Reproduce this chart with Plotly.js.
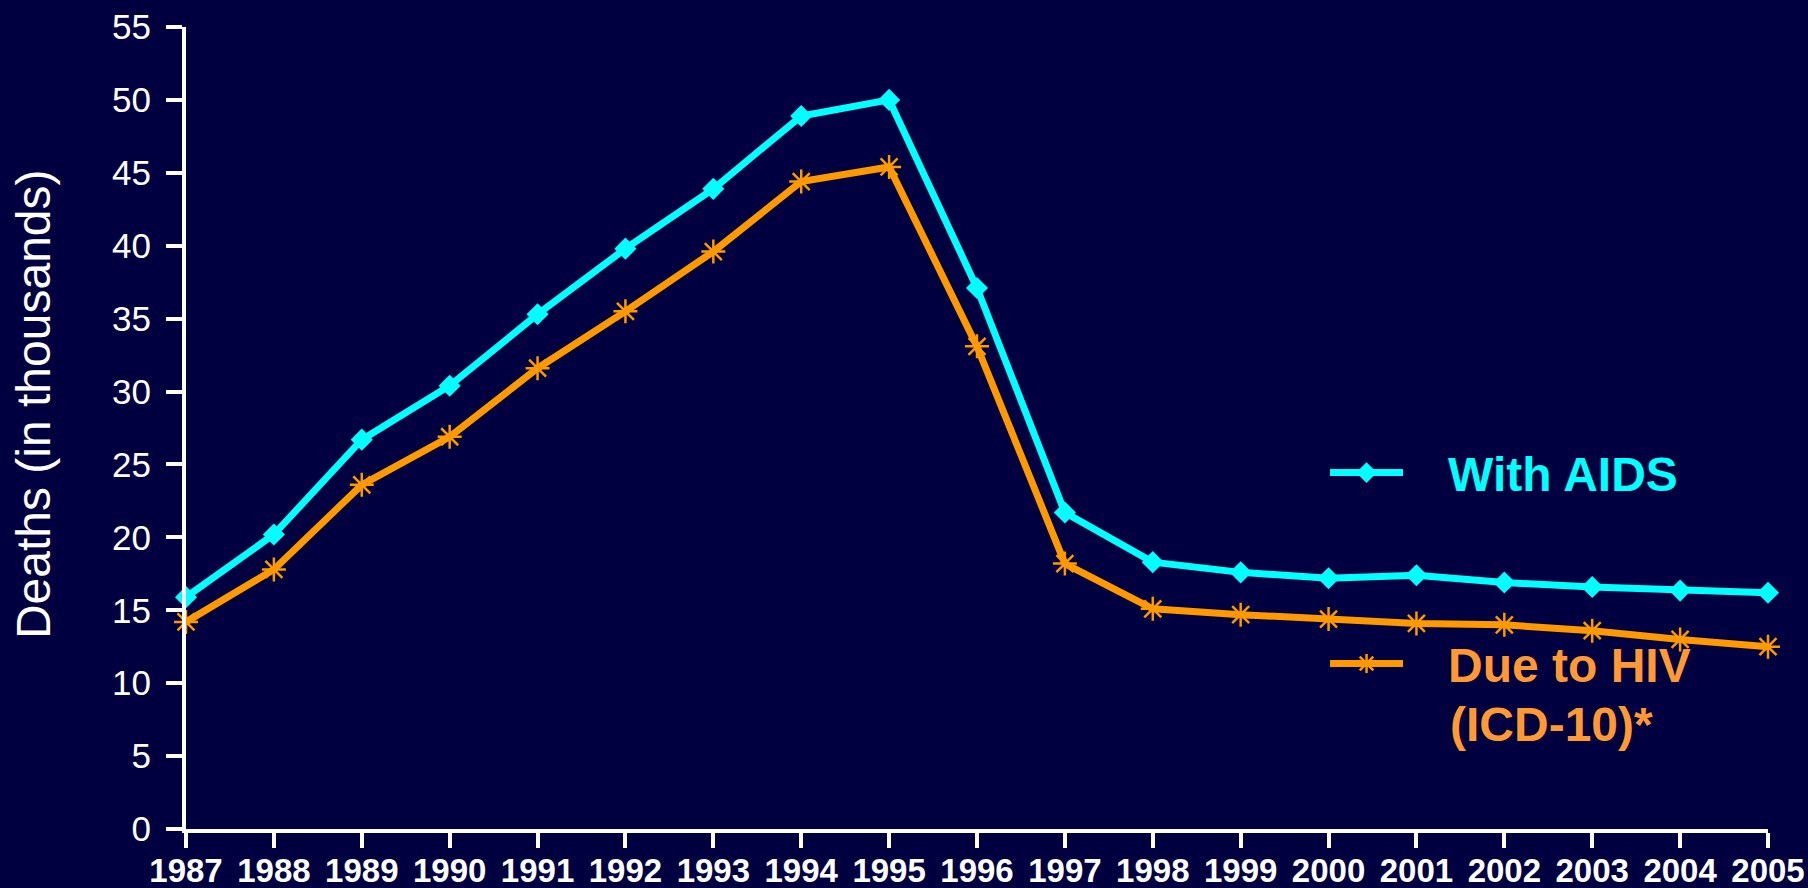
<!DOCTYPE html>
<html>
<head>
<meta charset="utf-8">
<script src="https://cdn.plot.ly/plotly-3.0.1.min.js"></script>
<style>
  html, body { margin: 0; padding: 0; background: #000040; }
  #chart { width: 1808px; height: 888px; }
</style>
</head>
<body>
<div id="chart"></div>
<script>
// values, deaths in thousands
var years = [1987, 1988, 1989, 1990, 1991, 1992, 1993, 1994, 1995, 1996,
             1997, 1998, 1999, 2000, 2001, 2002, 2003, 2004, 2005];
var withAids = [15.9, 20.2, 26.7, 30.4, 35.3, 39.8, 43.9, 48.9, 50.0, 37.1,
                21.7, 18.3, 17.6, 17.2, 17.4, 16.9, 16.6, 16.35, 16.2];
var dueToHiv = [14.2, 17.8, 23.6, 26.9, 31.6, 35.5, 39.6, 44.4, 45.4, 33.1,
                18.2, 15.1, 14.7, 14.4, 14.1, 14.0, 13.6, 13.0, 12.5];
var yTicks = [0, 5, 10, 15, 20, 25, 30, 35, 40, 45, 50, 55];

var FONT = 'Arial, "Liberation Sans", sans-serif';
var CYAN = '#00ffff';
var ORANGE = '#ff9900';
var ORANGE_TEXT = '#ff9933';
var PAD = '\u00a0\u00a0\u00a0';   // gap between legend line and its text

var traces = [
  {
    x: years,
    y: withAids,
    type: 'scatter',
    mode: 'lines+markers',
    name: PAD + 'With AIDS',
    legend: 'legend',
    cliponaxis: false,
    line: {color: CYAN, width: 7},
    marker: {symbol: 'diamond', size: 17, color: CYAN}
  },
  {
    x: years,
    y: dueToHiv,
    type: 'scatter',
    mode: 'lines+markers',
    name: PAD + 'Due to HIV',
    legend: 'legend2',
    cliponaxis: false,
    line: {color: ORANGE, width: 7},
    marker: {symbol: 'asterisk-open', size: 20, color: ORANGE,
             line: {color: ORANGE, width: 2.5}}
  }
];

var layout = {
  width: 1808,
  height: 888,
  paper_bgcolor: '#000040',
  plot_bgcolor: '#000040',
  margin: {l: 186, r: 40, t: 27, b: 59},
  font: {family: FONT, color: '#ffffff'},
  xaxis: {
    range: [1987, 2005],
    tickvals: years,
    ticktext: years.map(String),
    showgrid: false,
    zeroline: false,
    showline: true,
    linecolor: '#ffffff',
    linewidth: 4,
    ticks: 'outside',
    ticklen: 15,
    tickwidth: 4,
    tickcolor: '#ffffff',
    ticklabelstandoff: -6,
    tickfont: {family: FONT, size: 33, color: '#ffffff', weight: 'bold'}
  },
  yaxis: {
    range: [0, 55],
    tickvals: yTicks,
    showgrid: false,
    zeroline: false,
    showline: true,
    linecolor: '#ffffff',
    linewidth: 4,
    ticks: 'outside',
    ticklen: 16,
    tickwidth: 4,
    tickcolor: '#ffffff',
    ticklabelstandoff: 8,
    tickfont: {family: FONT, size: 35, color: '#ffffff'}
  },
  annotations: [
    {
      text: 'Deaths (in thousands)',
      xref: 'paper', yref: 'paper',
      x: -0.096, y: 0.53,
      xanchor: 'center', yanchor: 'middle',
      textangle: -90,
      showarrow: false,
      font: {family: FONT, size: 48, color: '#ffffff'}
    },
    {
      // second line of the orange legend entry
      text: '(ICD-10)*',
      xref: 'paper', yref: 'paper',
      x: 0.798, y: 0.13,
      xanchor: 'left', yanchor: 'middle',
      showarrow: false,
      font: {family: FONT, size: 48, color: ORANGE_TEXT, weight: 'bold'}
    }
  ],
  showlegend: true,
  legend: {
    x: 0.72, y: 0.444, xanchor: 'left', yanchor: 'middle',
    bgcolor: 'rgba(0,0,0,0)',
    itemwidth: 73,
    font: {family: FONT, size: 48, color: CYAN, weight: 'bold'}
  },
  legend2: {
    x: 0.72, y: 0.206, xanchor: 'left', yanchor: 'middle',
    bgcolor: 'rgba(0,0,0,0)',
    itemwidth: 73,
    font: {family: FONT, size: 48, color: ORANGE_TEXT, weight: 'bold'}
  }
};

Plotly.newPlot('chart', traces, layout, {displayModeBar: false, staticPlot: true});
</script>
</body>
</html>
